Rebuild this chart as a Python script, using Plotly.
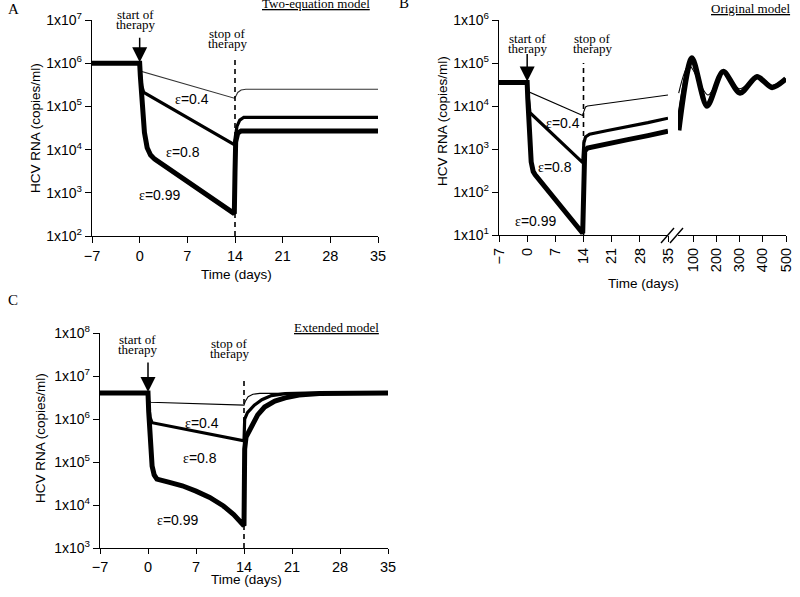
import math
import plotly.graph_objects as go

W, H = 800, 597
SANS = "Liberation Sans, Arial, sans-serif"
SERIF = "Liberation Serif, Times New Roman, serif"

# ---------------- data ----------------
# Panel A: two-equation model
a04_t = [-7, 0, 0.08, 13.9, 14.1, 14.4, 14.9, 15.6, 35]
a04_v = [1e6, 1e6, 6.6e5, 1.55e5, 1.7e5, 2.1e5, 2.4e5, 2.5e5, 2.5e5]
a08_t = [-7, 0, 0.1, 0.3, 0.6, 13.9, 14.05, 14.3, 14.7, 15.3, 35]
a08_v = [1e6, 1e6, 6e5, 3e5, 2.1e5, 1.3e4, 2e4, 3.5e4, 4.8e4, 5.6e4, 5.6e4]
a099_t = [-7, 0, 0.1, 0.3, 0.7, 1.1, 1.6, 2.2, 13.9, 14.0, 14.1, 14.4, 14.9, 35]
a099_v = [1e6, 1e6, 5e5, 1.2e5, 2.5e4, 1.1e4, 7.5e3, 6e3, 3.3e2, 3e3, 1.5e4, 2.4e4, 2.7e4, 2.7e4]

# Panel B: original model, first 35 days
b04_t = [-7, 0, 0.1, 13.8, 14.1, 14.5, 15, 20, 25, 30, 35]
b04_v = [3.5e4, 3.5e4, 2.2e4, 6e3, 7.5e3, 9.5e3, 1e4, 1.15e4, 1.35e4, 1.55e4, 1.8e4]
b08_t = [-7, 0, 0.15, 0.4, 0.7, 13.8, 13.95, 14.1, 14.5, 15.5, 20, 25, 30, 35]
b08_v = [3.5e4, 3.5e4, 2e4, 1e4, 7e3, 4.8e2, 8e2, 1.4e3, 1.9e3, 2.2e3, 2.7e3, 3.3e3, 4.1e3, 5.2e3]
b099_t = [-7, 0, 0.15, 0.5, 1.0, 1.5, 2.0, 13.8, 13.95, 14.05, 14.3, 15, 20, 25, 30, 35]
b099_v = [3.5e4, 3.5e4, 1.5e4, 2.5e3, 5e2, 3e2, 2.5e2, 11, 1e2, 6e2, 9e2, 1.05e3, 1.35e3, 1.65e3, 2.05e3, 2.6e3]
# Panel B: long-term (35-500 days)
b04r_t = [38, 82, 164, 229, 300, 375, 440, 500]
b04r_v = [2e4, 9e4, 1.8e4, 5.7e4, 2.5e4, 4.6e4, 3e4, 4.2e4]
b08r_t = [38, 95, 160, 229, 302, 375, 440, 500]
b08r_v = [5e3, 1.3e5, 1.05e4, 6.2e4, 2.1e4, 4.7e4, 2.8e4, 4.2e4]
b099r_t = [38, 95, 160, 229, 302, 375, 440, 500]
b099r_v = [2.7e3, 1.3e5, 1e4, 6.3e4, 2e4, 4.8e4, 2.7e4, 4.3e4]

# Panel C: extended model
c04_t = [-7, 0, 0.1, 0.4, 14.0, 14.2, 14.6, 15.3, 16.3, 35]
c04_v = [4e6, 4e6, 2.8e6, 2.45e6, 2.1e6, 2.6e6, 3.3e6, 3.75e6, 3.95e6, 4e6]
c08_t = [-7, 0, 0.1, 0.3, 0.6, 14.0, 14.1, 14.5, 15.5, 16.6, 18, 20, 23, 35]
c08_v = [4e6, 4e6, 2e6, 1.1e6, 8.2e5, 3.1e5, 1e6, 1.4e6, 2.1e6, 2.8e6, 3.5e6, 3.9e6, 4e6, 4e6]
c099_t = [-7, 0, 0.1, 0.3, 0.6, 0.9, 1.3, 3, 5, 7, 9, 11, 12.5, 14.0, 14.1, 14.3,
          15, 16, 17, 18.5, 20, 22, 25, 28, 35]
c099_v = [4e6, 4e6, 1.5e6, 3e5, 8e4, 5e4, 4e4, 3.4e4, 2.8e4, 2.1e4, 1.5e4, 9.5e3, 6e3, 3.3e3, 2e5, 3.8e5,
          6.5e5, 1.25e6, 1.9e6, 2.6e6, 3.1e6, 3.6e6, 3.9e6, 4e6, 4e6]

x_ticks_short = [-7, 0, 7, 14, 21, 28, 35]
x_ticks_long = [100, 200, 300, 400, 500]
eps_labels = ["ε=0.4", "ε=0.8", "ε=0.99"]

# ---------------- helpers ----------------
def px(x):
    return x / W

def py(y):
    return 1 - y / H

def ylog_ticks(lo, hi):
    vals = [10 ** k for k in range(lo, hi + 1)]
    text = ["1x10<sup>%d</sup>" % k for k in range(lo, hi + 1)]
    return vals, text

fig = go.Figure()

def add_line(t, v, xa, ya, width, shape="linear", color="black"):
    fig.add_trace(go.Scatter(x=t, y=v, xaxis=xa, yaxis=ya, mode="lines",
                             line=dict(color=color, width=width, shape=shape,
                                       smoothing=0.8 if shape == "spline" else None),
                             showlegend=False, hoverinfo="skip"))

W04, W08, W099 = 1.1, 3.2, 5.0

add_line(a04_t, a04_v, "x", "y", W04, color="#333")
add_line(a08_t, a08_v, "x", "y", W08)
add_line(a099_t, a099_v, "x", "y", W099)

add_line(b04_t, b04_v, "x2", "y2", W04)
add_line(b08_t, b08_v, "x2", "y2", W08)
add_line(b099_t, b099_v, "x2", "y2", W099)
add_line(b099r_t, b099r_v, "x3", "y2", W099 + 0.5, "spline")
add_line(b08r_t, b08r_v, "x3", "y2", W08 + 0.5, "spline")
add_line(b04r_t, b04r_v, "x3", "y2", W04, "spline")

add_line(c04_t, c04_v, "x4", "y4", W04)
add_line(c08_t, c08_v, "x4", "y4", W08)
add_line(c099_t, c099_v, "x4", "y4", W099)

XT = dict(family=SANS, size=14.5, color="black")
YT = dict(family=SANS, size=14, color="black")
axis_common = dict(showline=True, linecolor="black", linewidth=1.3, ticks="outside",
                   ticklen=6, tickwidth=1.3, tickcolor="black", showgrid=False,
                   zeroline=False, automargin=False, tickfont=XT)

ya_vals, ya_text = ylog_ticks(2, 7)
yb_vals, yb_text = ylog_ticks(1, 6)
yc_vals, yc_text = ylog_ticks(3, 8)

fig.update_layout(
    width=W, height=H, margin=dict(l=0, r=0, t=0, b=0, pad=0, autoexpand=False),
    paper_bgcolor="white", plot_bgcolor="white", showlegend=False,
    xaxis=dict(axis_common, domain=[px(92), px(378)], range=[-7, 35], anchor="y",
               tickvals=x_ticks_short),
    yaxis=dict(axis_common, domain=[py(236), py(20)], type="log", range=[2, 7], anchor="x",
               tickvals=ya_vals, ticktext=ya_text, tickfont=YT),
    xaxis2=dict(axis_common, domain=[px(499), px(668)], range=[-7, 35], anchor="y2",
                tickvals=x_ticks_short, tickangle=-90),
    xaxis3=dict(axis_common, domain=[px(678), px(786)], range=[35, 500], anchor="y2",
                tickvals=x_ticks_long, tickangle=-90),
    yaxis2=dict(axis_common, domain=[py(235), py(20)], type="log", range=[1, 6], anchor="x2",
                tickvals=yb_vals, ticktext=yb_text, tickfont=YT),
    xaxis4=dict(axis_common, domain=[px(100), px(388)], range=[-7, 35], anchor="y4",
                tickvals=x_ticks_short, ticklen=5),
    yaxis4=dict(axis_common, domain=[py(548), py(333)], type="log", range=[3, 8], anchor="x4",
                tickvals=yc_vals, ticktext=yc_text, tickfont=YT),
)

# stop-of-therapy dashed lines
for xa, ya, top in [("x", "y", 0.82), ("x2", "y2", 0.80), ("x4", "y4", 0.795)]:
    fig.add_shape(type="line", xref=xa, yref=ya + " domain", x0=14, x1=14, y0=0, y1=top,
                  line=dict(color="black", width=1.6, dash="5px,4px"))

# start-of-therapy arrows
for xa, ya, base, ay in [("x", "y", a04_v[0], -27), ("x2", "y2", b04_v[0], -30), ("x4", "y4", c04_v[0], -32)]:
    fig.add_annotation(x=0, y=math.log10(base), xref=xa, yref=ya, text="", showarrow=True,
                       arrowhead=2, arrowsize=2.0, arrowwidth=1.5, arrowcolor="black",
                       ax=0, ay=ay, standoff=1)

def text(x, y, s, size=14, family=SERIF, angle=0, xanchor="center"):
    fig.add_annotation(x=px(x), y=py(y), xref="paper", yref="paper", text=s, showarrow=False,
                       font=dict(family=family, size=size, color="black"), textangle=angle,
                       xanchor=xanchor, yanchor="middle")

# panel letters and titles
text(13, 9, "A", 15)
text(404, 3, "B", 15)
text(13, 300, "C", 15)
text(316, 3, "<u>Two-equation model</u>", 13)
text(750, 8, "<u>Original model</u>", 13)
text(336, 327, "<u>Extended model</u>", 13)

# therapy labels
for (sx, sy), (ex, ey) in [((135, 15), (227, 34)), ((527, 38), (592, 38)), ((137, 340), (229, 343))]:
    text(sx, sy, "start of", 13)
    text(sx, sy + 10, "therapy", 13)
    text(ex, ey, "stop of", 13)
    text(ex, ey + 10, "therapy", 13)

# epsilon labels
eps_pos = [
    [(192, 99), (183, 152), (160, 195)],
    [(563, 123), (555, 167), (536, 221)],
    [(202, 423), (200, 458), (178, 520)],
]
for panel in eps_pos:
    for (x, y), lab in zip(panel, eps_labels):
        s = "<span style='font-family:Liberation Serif'>ε</span>" + lab[1:]
        text(x, y, s, 14, SANS)

# axis titles
for (x, y) in [(35, 128), (442, 121), (40, 438)]:
    text(x, y, "HCV RNA (copies/ml)", 13.5, SANS, angle=-90)
for (x, y) in [(236, 274), (643, 283), (246, 579)]:
    text(x, y, "Time (days)", 13.5, SANS)

# axis break marks on panel B
for x0 in (661, 670):
    fig.add_shape(type="line", xref="paper", yref="paper", x0=px(x0), y0=py(243),
                  x1=px(x0 + 13), y1=py(228), line=dict(color="black", width=1.4))

fig.write_html("out.html", config={"displayModeBar": False},
               post_script="document.body.style.margin='0';document.body.style.overflow='hidden';")
